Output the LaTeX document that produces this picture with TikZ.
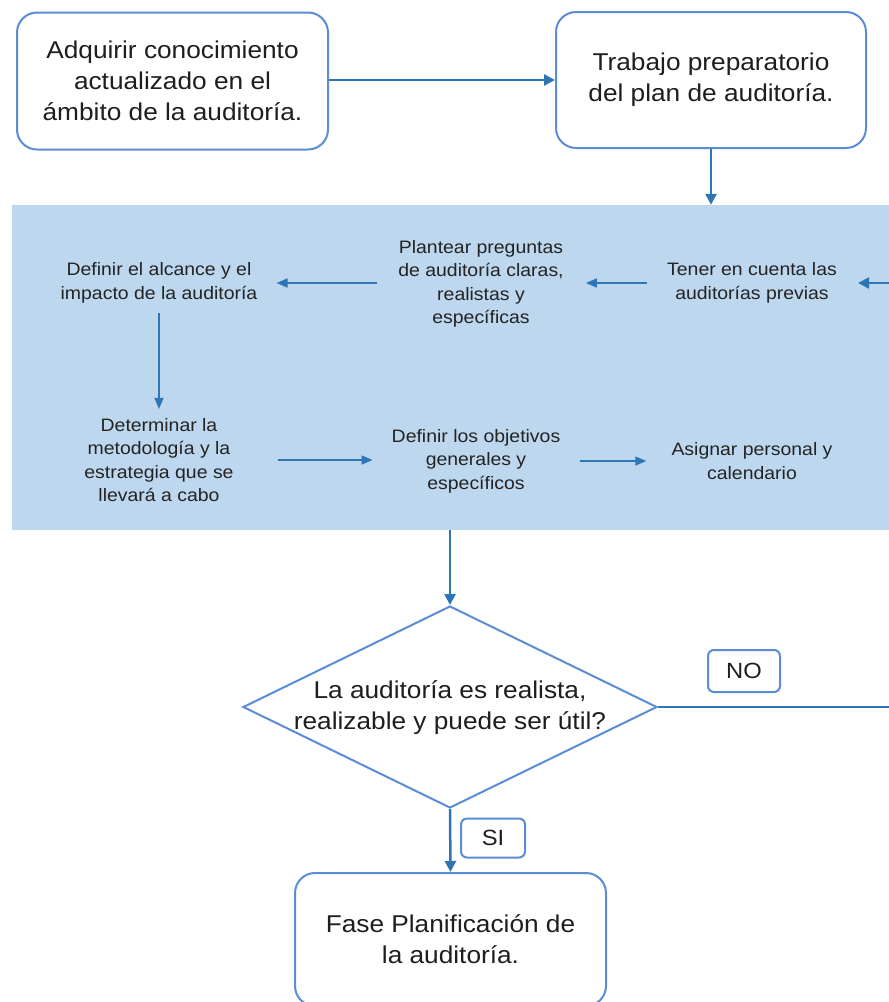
\documentclass[tikz,border=0pt]{standalone}
\usepackage{fontspec}
\setmainfont{Liberation Sans}[FakeStretch=1.08]
\usetikzlibrary{arrows.meta,shapes.geometric}
\definecolor{edgeblue}{RGB}{91,140,214}
\definecolor{flowblue}{RGB}{46,117,182}
\definecolor{panelblue}{RGB}{189,215,238}
\definecolor{inktext}{RGB}{30,30,30}
\definecolor{paneltext}{RGB}{35,35,35}
\begin{document}
\begin{tikzpicture}[x=1pt,y=-1pt,
  mainbox/.style={draw=edgeblue,line width=2pt,rounded corners=20pt,fill=white,
    minimum width=311pt,minimum height=137pt,align=center,
    font=\fontsize{24.3}{31}\selectfont,text=inktext},
  tagbox/.style={draw=edgeblue,line width=2pt,rounded corners=6pt,fill=white,
    align=center,inner sep=0pt,font=\fontsize{22}{26}\selectfont,text=inktext},
  steptext/.style={align=center,inner sep=0pt,
    font=\fontsize{18}{23.5}\selectfont,text=paneltext},
  flow/.style={draw=flowblue,line width=2.5pt,-{Triangle[length=11pt,width=11pt]}},
  link/.style={draw=flowblue,line width=1.4pt,-{Triangle[length=11pt,width=9pt]}},
]
\useasboundingbox (0,0) rectangle (889,1002);
\clip (0,0) rectangle (889,1002);

% top row
\node[mainbox] (adq) at (172.5,81)
  {Adquirir conocimiento\\actualizado en el\\ámbito de la auditoría.};
\node[mainbox,minimum width=310pt,minimum height=136pt] (trab) at (711,80)
  {Trabajo preparatorio\\del plan de auditoría.};

% shaded planning panel
\node[fill=panelblue,inner sep=0pt,minimum width=877pt,minimum height=325pt] (panel)
  at (450.5,367.5) {};

\node[steptext] (tener) at (752,283) {Tener en cuenta las\\auditorías previas};
\node[steptext] (plantear) at (481,284)
  {Plantear preguntas\\de auditoría claras,\\realistas y\\específicas};
\node[steptext] (definir) at (159,283) {Definir el alcance y el\\impacto de la auditoría};
\node[steptext] (determ) at (159,460)
  {Determinar la\\metodología y la\\estrategia que se\\llevará a cabo};
\node[steptext] (objetivos) at (476,461) {Definir los objetivos\\generales y\\específicos};
\node[steptext] (asignar) at (752,461) {Asignar personal y\\calendario};

% decision
\node[diamond,draw=edgeblue,line width=2pt,fill=white,inner sep=0pt,
  minimum width=414pt,minimum height=202pt] (dia) at (450,707) {};
\node[align=center,font=\fontsize{24.3}{31}\selectfont,text=inktext] (question)
  at (450,708) {La auditoría es realista,\\realizable y puede ser útil?};

\node[tagbox,minimum width=72pt,minimum height=42pt] (no) at (744,671) {NO};
\node[tagbox,minimum width=64pt,minimum height=39pt] (si) at (493,838) {SI};

\node[mainbox,minimum height=133pt] (fase) at (450.5,939.5)
  {Fase Planificación de\\la auditoría.};

\coordinate (noend) at (889,707);
\coordinate (retin) at (889,283);

% connectors
\draw[flow] (trab.west -| adq.east) -- (trab.west);
\draw[flow] (trab.south) -- (trab.south |- panel.north);
\draw[flow,shorten >=21pt] (retin) -- (retin -| tener.east);
\draw[link,shorten <=20pt,shorten >=22pt] (tener.west) -- (tener.west -| plantear.east);
\draw[link,shorten <=21pt,shorten >=19pt] (definir.east -| plantear.west) -- (definir.east);
\draw[link,shorten <=10pt,shorten >=9pt] (definir.south) -- (determ.north);
\draw[link,shorten <=44pt,shorten >=19pt] (determ.east) -- (determ.east -| objetivos.west);
\draw[link,shorten <=20pt,shorten >=25pt] (objetivos.east) -- (objetivos.east -| asignar.west);
\draw[flow] (panel.south -| dia.north) -- (dia.north);
\draw[draw=flowblue,line width=2.5pt] (dia.east) -- (noend);
\draw[flow] (dia.south) -- (fase.north);
\end{tikzpicture}
\end{document}
